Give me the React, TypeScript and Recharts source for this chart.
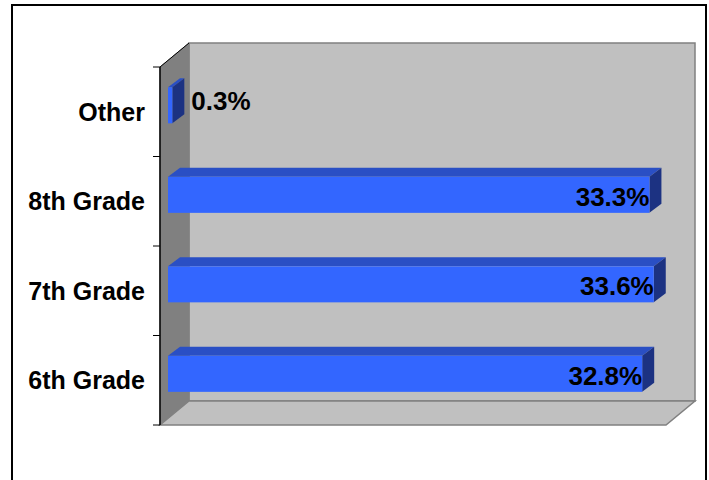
import * as Recharts from "recharts";
import { BarChart, XAxis, YAxis, Bar, LabelList } from "recharts";

const grades = ["6th Grade", "7th Grade", "8th Grade", "Other"];
const shares = [32.8, 33.6, 33.3, 0.3];
const axisMax = 35;

const CHART_W = 692;
const CHART_H = 470;
const Y_AXIS_W = 147;
const MARGIN = { top: 61, right: 39, bottom: 51, left: 0 };

// depth of the "3d" box, and where the bars sit inside it
const DEPTH = { dx: 29, dy: -24 };
const BAR_OFF = { dx: 8, dy: -6.5 };
const BAR_DEPTH = { dx: 12, dy: -9 };

const FONT = "'Liberation Sans', Arial, sans-serif";

const data = grades.map((g, i) => ({ name: g, value: shares[i] }));

const R: any = Recharts;

function Walls() {
  let area: any = null;
  if (typeof R.usePlotArea === "function") area = R.usePlotArea();
  if (!area) {
    area = {
      x: MARGIN.left + Y_AXIS_W,
      y: MARGIN.top,
      width: CHART_W - MARGIN.left - Y_AXIS_W - MARGIN.right,
      height: CHART_H - MARGIN.top - MARGIN.bottom,
    };
  }
  const { x, y, width: w, height: h } = area;
  const { dx, dy } = DEPTH;
  const band = h / grades.length;
  const ticks = grades.map((_, i) => y + i * band).concat([y + h]);

  return (
    <g>
      <rect x={x + dx} y={y + dy} width={w} height={h} fill="#C0C0C0" stroke="#808080" strokeWidth={1.5} />
      <polygon
        points={`${x},${y} ${x + dx},${y + dy} ${x + dx},${y + h + dy} ${x},${y + h}`}
        fill="#808080"
        stroke="#808080"
      />
      <polygon
        points={`${x},${y + h} ${x + dx},${y + h + dy} ${x + w + dx},${y + h + dy} ${x + w},${y + h}`}
        fill="#C0C0C0"
        stroke="#808080"
        strokeWidth={1.5}
      />
      <line x1={x} y1={y} x2={x + dx} y2={y + dy} stroke="#000" />
      <line x1={x} y1={y} x2={x} y2={y + h} stroke="#000" strokeWidth={1.5} />
      {ticks.map((t, i) => (
        <line key={i} x1={x - 7} y1={t} x2={x} y2={t} stroke="#000" />
      ))}
    </g>
  );
}

function Bar3D(props: any) {
  const { x, y, width, height } = props;
  const fx = x + BAR_OFF.dx;
  const fy = y + BAR_OFF.dy;
  const w = Math.max(width, 0);
  const { dx, dy } = BAR_DEPTH;
  return (
    <g>
      <polygon
        points={`${fx},${fy} ${fx + dx},${fy + dy} ${fx + w + dx},${fy + dy} ${fx + w},${fy}`}
        fill="#2A4FC4"
      />
      <polygon
        points={`${fx + w},${fy} ${fx + w + dx},${fy + dy} ${fx + w + dx},${fy + height + dy} ${fx + w},${fy + height}`}
        fill="#1C3282"
      />
      <rect x={fx} y={fy} width={w} height={height} fill="#3366FF" />
    </g>
  );
}

function ValueLabel(props: any) {
  const { x, y, width, height, value } = props;
  const end = x + width + BAR_OFF.dx;
  const cy = y + BAR_OFF.dy + height / 2;
  const inside = value > 5;
  return (
    <text
      x={inside ? end : end + 19}
      y={inside ? cy + 2 : cy - 4}
      textAnchor={inside ? "end" : "start"}
      dominantBaseline="central"
      fontFamily={FONT}
      fontWeight="bold"
      fontSize={26}
      fill="#000"
    >
      {`${Number(value).toFixed(1)}%`}
    </text>
  );
}

export default function App() {
  return (
    <div
      style={{
        position: "absolute",
        left: 11,
        top: 4,
        width: CHART_W,
        height: CHART_H + 10,
        border: "2px solid #000",
        background: "#fff",
      }}
    >
      <BarChart
        width={CHART_W}
        height={CHART_H}
        data={data}
        layout="vertical"
        margin={MARGIN}
        barCategoryGap="30%"
      >
        <Walls />
        <XAxis type="number" domain={[0, axisMax]} hide />
        <YAxis
          type="category"
          dataKey="name"
          reversed
          width={Y_AXIS_W}
          axisLine={false}
          tickLine={false}
          tickSize={0}
          tickMargin={15}
          tick={{ fontFamily: FONT, fontWeight: "bold", fontSize: 25, fill: "#000" }}
        />
        <Bar dataKey="value" shape={<Bar3D />} isAnimationActive={false}>
          <LabelList dataKey="value" content={<ValueLabel />} />
        </Bar>
      </BarChart>
    </div>
  );
}
